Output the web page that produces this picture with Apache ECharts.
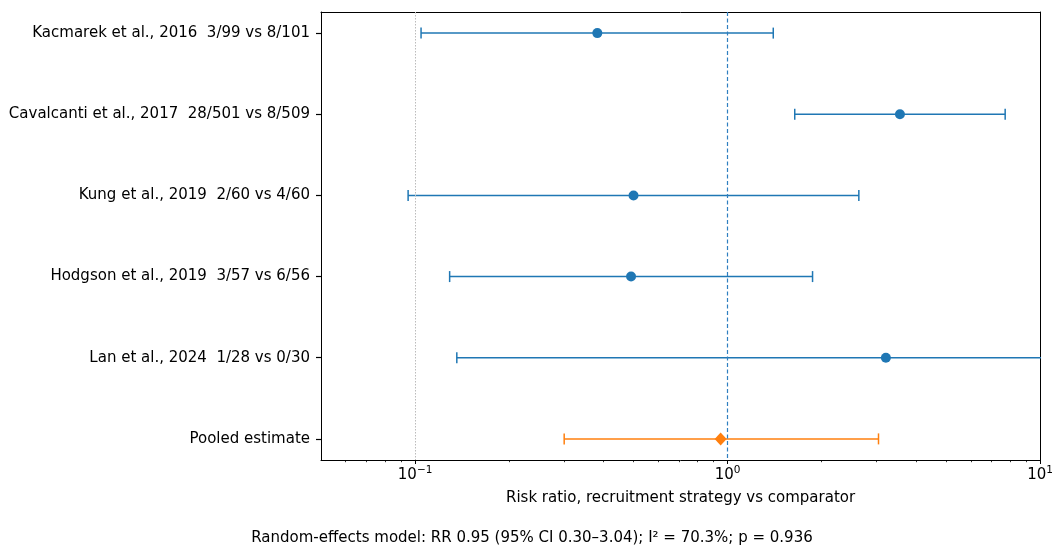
<!DOCTYPE html>
<html><head><meta charset="utf-8">
<script src="https://cdn.jsdelivr.net/npm/echarts@6/dist/echarts.min.js"></script>
<style>html,body{margin:0;padding:0;background:#fff}#c{width:1056px;height:546px}</style>
</head><body><div id="c"></div>
<script>
const studies = ["Kacmarek et al., 2016  3/99 vs 8/101","Cavalcanti et al., 2017  28/501 vs 8/509","Kung et al., 2019  2/60 vs 4/60","Hodgson et al., 2019  3/57 vs 6/56","Lan et al., 2024  1/28 vs 0/30","Pooled estimate"];
const rr    = [0.383, 3.56, 0.50, 0.491, 3.21];
const lower = [0.1045, 1.64, 0.095, 0.129, 0.136];
const upper = [1.40, 7.73, 2.63, 1.87, 75.7];
const pooledRR = 0.95, pooledLo = 0.30, pooledHi = 3.04;
const majorTicks = [0.1, 1, 10];
const minorTicks = [0.06,0.07,0.08,0.09,0.2,0.3,0.4,0.5,0.6,0.7,0.8,0.9,2,3,4,5,6,7,8,9];
const rowIdx = [0,1,2,3,4,5];
const xName = "Risk ratio, recruitment strategy vs comparator";
const footnote = "Random-effects model: RR 0.95 (95% CI 0.30–3.04); I² = 70.3%; p = 0.936";

const FONT = "DejaVu Sans";
const FS = 15;
const BLUE = "#1f77b4", ORANGE = "#ff7f0e";

const studyRows = rr.map((v,i)=>[lower[i], upper[i], i]);
const pooledRows = [[pooledLo, pooledHi, 5]];

function errRender(color){
  return function(params, api){
    const lo = api.coord([api.value(0), api.value(2)]);
    const hi = api.coord([api.value(1), api.value(2)]);
    const cap = 5.5;
    const style = {stroke: color, lineWidth: 1.5};
    return {type:'group', children:[
      {type:'line', shape:{x1:lo[0],y1:lo[1],x2:hi[0],y2:hi[1]}, style},
      {type:'line', shape:{x1:lo[0],y1:lo[1]-cap,x2:lo[0],y2:lo[1]+cap}, style},
      {type:'line', shape:{x1:hi[0],y1:hi[1]-cap,x2:hi[0],y2:hi[1]+cap}, style}
    ]};
  };
}

function supLabel(v){
  const e = Math.round(Math.log10(v));
  const es = e < 0 ? '\u2212' + (-e) : String(e);
  return '{b|10}{s|' + es + '}';
}

const chart = echarts.init(document.getElementById('c'), null, {renderer:'canvas'});
chart.setOption({
  animation:false,
  backgroundColor:'#fff',
  grid:{left:321, right:15, top:12, bottom:86, containLabel:false},
  xAxis:[
    {type:'log', logBase:10, min:0.05, max:10, position:'bottom',
     name:xName, nameLocation:'middle', nameGap:31,
     nameTextStyle:{fontFamily:FONT, fontSize:FS, color:'#000'},
     axisLine:{show:true, onZero:false, lineStyle:{color:'#000', width:1}},
     axisTick:{show:true, customValues:majorTicks, length:4, lineStyle:{color:'#000', width:1}},
     axisLabel:{show:true, customValues:majorTicks, margin:5, formatter:supLabel, color:'#000',
       rich:{b:{fontFamily:FONT, fontSize:FS, color:'#000'}, s:{fontFamily:FONT, fontSize:10.5, color:'#000', padding:[0,0,9,0]}}},
     splitLine:{show:false}, minorTick:{show:false}},
    {type:'log', logBase:10, min:0.05, max:10, position:'bottom',
     axisLine:{show:false, onZero:false},
     axisTick:{show:true, customValues:minorTicks, length:2.2, lineStyle:{color:'#000', width:0.8}},
     axisLabel:{show:false}, splitLine:{show:false}},
    {type:'log', logBase:10, min:0.05, max:10, position:'top',
     axisLine:{show:true, onZero:false, lineStyle:{color:'#000', width:1}},
     axisTick:{show:false}, axisLabel:{show:false}, splitLine:{show:false}}
  ],
  yAxis:[
    {type:'value', inverse:true, min:-0.26, max:5.26, position:'left',
     axisLine:{show:true, lineStyle:{color:'#000', width:1}},
     axisTick:{show:true, customValues:rowIdx, length:5, lineStyle:{color:'#000', width:1.2}},
     axisLabel:{show:true, customValues:rowIdx, margin:11, color:'#000', fontFamily:FONT, fontSize:FS,
       formatter:(v)=>studies[Math.round(v)]},
     splitLine:{show:false}},
    {type:'value', inverse:true, min:-0.26, max:5.26, position:'right',
     axisLine:{show:true, lineStyle:{color:'#000', width:1}},
     axisTick:{show:false}, axisLabel:{show:false}, splitLine:{show:false}}
  ],
  series:[
    {type:'line', xAxisIndex:0, yAxisIndex:0, data:[], z:1,
     markLine:{silent:true, symbol:['none','none'], label:{show:false},
       lineStyle:{color:'#bbbbbb', type:[1.5,1.5], width:1}, data:[{xAxis:0.1}]}},
    {type:'custom', xAxisIndex:0, yAxisIndex:0, renderItem:errRender(BLUE), data:studyRows, clip:true, z:2,
     encode:{x:[0,1], y:2}},
    {type:'custom', xAxisIndex:0, yAxisIndex:0, renderItem:errRender(ORANGE), data:pooledRows, clip:true, z:2,
     encode:{x:[0,1], y:2}},
    {type:'scatter', xAxisIndex:0, yAxisIndex:0, data:rr.map((v,i)=>[v,i]), symbol:'circle', symbolSize:10,
     itemStyle:{color:BLUE, opacity:1}, z:3},
    {type:'scatter', xAxisIndex:0, yAxisIndex:0, data:[[pooledRR,5]], symbol:'diamond', symbolSize:[12,13],
     itemStyle:{color:ORANGE, opacity:1}, z:3},
    {type:'line', xAxisIndex:0, yAxisIndex:0, data:[], z:5, color:'#2f7fc0',
     markLine:{silent:true, symbol:['none','none'], label:{show:false}, z:5,
       lineStyle:{color:'#2f7fc0', type:[4,2.5], width:1.2, opacity:1}, data:[{xAxis:1, lineStyle:{color:'#2f7fc0'}}]}}
  ],
  graphic:[{type:'text', x:532, y:538,
    style:{text:footnote, fontFamily:FONT, fontSize:FS, fill:'#000', align:'center', verticalAlign:'middle'}}]
});
</script></body></html>
